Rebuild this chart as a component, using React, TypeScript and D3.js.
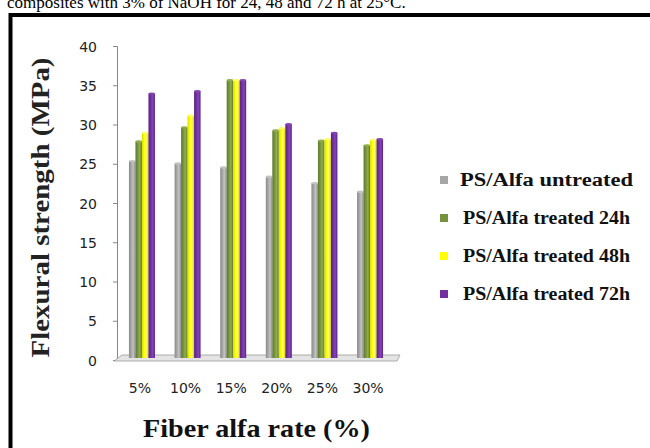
import { scaleBand, scaleLinear } from "d3";

// grouped 3D-ish bar chart: flexural strength of PS/Alfa composites

const CATEGORIES = ["5%", "10%", "15%", "20%", "25%", "30%"];
const SERIES = [
  "PS/Alfa untreated",
  "PS/Alfa treated 24h",
  "PS/Alfa treated 48h",
  "PS/Alfa treated 72h",
];
const UNTREATED = [25.4, 25.1, 24.6, 23.4, 22.6, 21.5];
const TREATED_24H = [27.9, 29.7, 35.7, 29.3, 28.0, 27.4];
const TREATED_48H = [29.0, 31.2, 35.7, 29.6, 28.2, 28.1];
const TREATED_72H = [34.0, 34.3, 35.7, 30.1, 29.0, 28.2];
const Y_TICKS = [0, 5, 10, 15, 20, 25, 30, 35, 40];

const VALUES = [UNTREATED, TREATED_24H, TREATED_48H, TREATED_72H];
const COLORS = ["#a6a6a6", "#77933c", "#ffff00", "#7030a0"];
const DARK = ["#8a8a8a", "#5e7a2c", "#d9d900", "#5a2285"];
const LIGHT = ["#c4c4c4", "#8fae4f", "#ffff66", "#8544b5"];

const W = 650;
const H = 448;
const FLOOR_Y = 358;

const App = () => {
  const y = scaleLinear().domain([0, 40]).range([360.5, 46.5]);
  const x0 = scaleBand<string>()
    .domain(CATEGORIES)
    .range([118, 394])
    .paddingInner(0.43)
    .paddingOuter(0.24);
  const x1 = scaleBand<string>().domain(SERIES).range([0, x0.bandwidth()]);

  const bars = CATEGORIES.map((cat, ci) => (
    <g key={cat} transform={`translate(${x0(cat)},0)`}>
      {SERIES.map((s, si) => {
        const v = VALUES[si][ci];
        const bx = x1(s) ?? 0;
        const bw = x1.bandwidth();
        const top = y(v);
        return (
          <g key={s}>
            <rect x={bx} y={top} width={bw} height={FLOOR_Y - top} fill={`url(#grad${si})`} />
            <ellipse cx={bx + bw / 2} cy={top} rx={bw / 2} ry={1.2} fill={LIGHT[si]} />
          </g>
        );
      })}
    </g>
  ));

  const legendY = [180, 218, 256, 294];

  return (
    <svg width={W} height={H} style={{ position: "absolute", left: 0, top: 0 }}>
      <defs>
        {COLORS.map((c, i) => (
          <linearGradient key={c} id={`grad${i}`} x1="0" x2="1" y1="0" y2="0">
            <stop offset="0%" stopColor={DARK[i]} />
            <stop offset="35%" stopColor={COLORS[i]} />
            <stop offset="65%" stopColor={LIGHT[i]} />
            <stop offset="100%" stopColor={DARK[i]} />
          </linearGradient>
        ))}
      </defs>
      <rect width={W} height={H} fill="#fff" />

      {/* caption cut off at the top */}
      <text x={7} y={8} fontFamily="Liberation Serif" fontSize={17} fill="#000">
        composites with 3% of NaOH for 24, 48 and 72 h at 25°C.
      </text>

      {/* frame */}
      <path d={`M10.5,${H + 5} V15 H${W + 5}`} stroke="#000" strokeWidth={4} fill="none" />

      {/* y axis */}
      <line x1={117.5} x2={117.5} y1={y(40)} y2={y(0)} stroke="#868686" />
      {Y_TICKS.map((t) => (
        <g key={t}>
          <line x1={113} x2={117.5} y1={y(t)} y2={y(t)} stroke="#868686" />
          <text
            x={97}
            y={y(t) + 5}
            textAnchor="end"
            fontFamily="DejaVu Sans"
            fontSize={14}
            fill="#222"
          >
            {t}
          </text>
        </g>
      ))}

      {/* floor */}
      <path d="M122,355 L400,355 L397,361 L114,361 Z" fill="#e4e4e4" stroke="#9a9a9a" strokeWidth={0.8} />

      {bars}

      {/* x tick labels */}
      {CATEGORIES.map((cat) => (
        <text
          key={cat}
          x={(x0(cat) ?? 0) + x0.bandwidth() / 2 - 2}
          y={393}
          textAnchor="middle"
          fontFamily="DejaVu Sans"
          fontSize={14}
          fill="#222"
        >
          {cat}
        </text>
      ))}

      {/* axis titles */}
      <text
        transform="translate(49,207.5) rotate(-90)"
        textAnchor="middle"
        fontFamily="Liberation Serif"
        fontWeight="bold"
        fontSize={25}
        textLength={300}
        lengthAdjust="spacingAndGlyphs"
        fill="#222"
      >
        Flexural strength (MPa)
      </text>
      <text
        x={256.5}
        y={437}
        textAnchor="middle"
        fontFamily="Liberation Serif"
        fontWeight="bold"
        fontSize={26}
        textLength={227}
        lengthAdjust="spacingAndGlyphs"
        fill="#111"
      >
        Fiber alfa rate (%)
      </text>

      {/* legend */}
      {SERIES.map((s, i) => (
        <g key={s}>
          <rect x={440} y={legendY[i] - 4} width={8} height={8} fill={COLORS[i]} />
          <text
            x={i === 0 ? 460 : 463}
            y={legendY[i] + 6}
            fontFamily="Liberation Serif"
            fontWeight="bold"
            fontSize={18}
            textLength={i === 0 ? 173 : 167}
            lengthAdjust="spacingAndGlyphs"
            fill="#111"
          >
            {s}
          </text>
        </g>
      ))}
    </svg>
  );
};

export default App;
